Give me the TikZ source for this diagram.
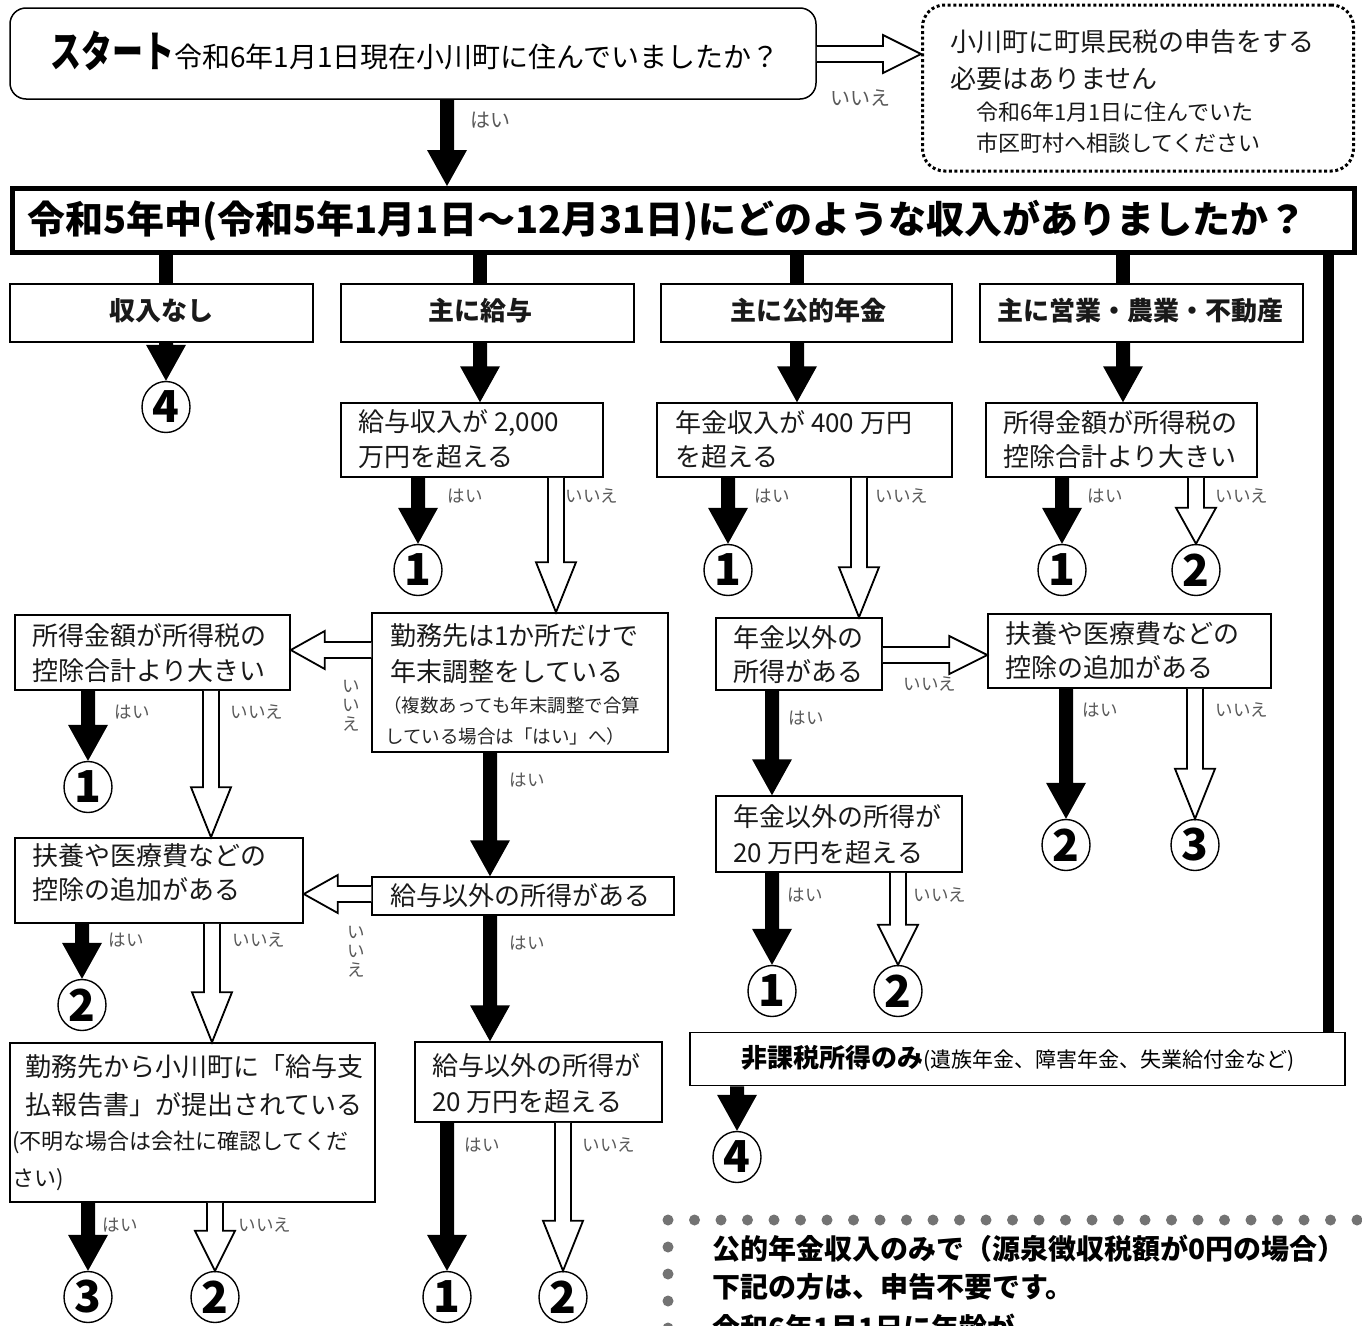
\documentclass[tikz,border=0pt]{standalone}
\usepackage{fontspec}
\setmainfont{Noto Sans CJK JP}
\newfontfamily\cond[FakeStretch=0.72]{Noto Sans CJK JP}
\usetikzlibrary{calc,shapes.geometric}

\tikzset{
  box/.style={draw=black, line width=1.5pt, fill=white, inner sep=0pt},
  txt/.style={anchor=west, inner sep=0pt, text=black!90, font=\fontsize{26}{26}\selectfont},
  stxt/.style={anchor=west, inner sep=0pt, text=black!85, font=\fontsize{18.5}{18.5}\selectfont},
  cattxt/.style={inner sep=0pt, text=black!90, font=\bfseries\fontsize{26}{26}\selectfont},
  lbl/.style={inner sep=0pt, text=black!65, font=\fontsize{17.5}{17.5}\selectfont},
  vlbl/.style={inner sep=0pt, text=black!65, align=center, font=\fontsize{17.5}{19}\selectfont},
  circ/.style={ellipse, draw=black, line width=1.4pt, minimum width=48pt, minimum height=51pt, inner sep=0pt, font=\bfseries\fontsize{44}{44}\selectfont},
  stub/.style={line width=14pt, draw=black},
  holl/.style={draw=black, line width=1.8pt, fill=white, line join=miter},
}

% black arrow pointing down: #1 start, #2 tip
\newcommand\blkarrow[2]{\fill[black] let \p1=#1, \p2=#2 in
  (\x1-7pt,\y1) -- (\x1-7pt,\y2+36pt) -- (\x1-20pt,\y2+36pt) -- (\x1,\y2)
  -- (\x1+20pt,\y2+36pt) -- (\x1+7pt,\y2+36pt) -- (\x1+7pt,\y1) -- cycle;}
% hollow arrow pointing down: [#1 head length] #2 start, #3 tip
\newcommand\holarrow[3][48]{\draw[holl] let \p1=#2, \p2=#3 in
  (\x1-8pt,\y1) -- (\x1-8pt,\y2+#1pt) -- (\x1-20pt,\y2+#1pt) -- (\x1,\y2)
  -- (\x1+20pt,\y2+#1pt) -- (\x1+8pt,\y2+#1pt) -- (\x1+8pt,\y1);}
% hollow arrow pointing right
\newcommand\holright[3][38]{\draw[holl] let \p1=#2, \p2=#3 in
  (\x1,\y1+8pt) -- (\x2-#1pt,\y1+8pt) -- (\x2-#1pt,\y1+19pt) -- (\x2,\y1)
  -- (\x2-#1pt,\y1-19pt) -- (\x2-#1pt,\y1-8pt) -- (\x1,\y1-8pt);}
% hollow arrow pointing left
\newcommand\holleft[3][34]{\draw[holl] let \p1=#2, \p2=#3 in
  (\x1,\y1+8pt) -- (\x2+#1pt,\y1+8pt) -- (\x2+#1pt,\y1+19pt) -- (\x2,\y1)
  -- (\x2+#1pt,\y1-19pt) -- (\x2+#1pt,\y1-8pt) -- (\x1,\y1-8pt);}

\begin{document}
\begin{tikzpicture}[x=1pt,y=-1pt]
\fill[white] (0,0) rectangle (1362,1325);
\clip (0,0) rectangle (1362,1325);
\useasboundingbox (0,0) rectangle (1362,1325);

% ---------- column coordinates ----------
\coordinate (xs) at (447,0);
\coordinate (cx1) at (166,0);
\coordinate (cx2) at (480,0);
\coordinate (cx3) at (797,0);
\coordinate (cx4) at (1123,0);
\coordinate (xR) at (1328,0);
\coordinate (xk) at (556,0);
\coordinate (xn) at (859,0);
\coordinate (xl) at (211,0);
\coordinate (xni) at (772,0);
\coordinate (xkm) at (490,0);
\coordinate (xfl) at (212,0);
\coordinate (ya) at (0,54);
\coordinate (yb) at (0,650);
\coordinate (yc) at (0,655);
\coordinate (yd) at (0,894);

% ================= NODES =================
% start
\node[box, minimum width=806pt, minimum height=91pt, rounded corners=16pt] (start) at (413,53.5) {};
\node[anchor=base west, inner sep=0pt, text=black] (tstart) at (50,67)
  {{\cond\bfseries\fontsize{43}{43}\selectfont スタート}{\fontsize{28}{28}\selectfont 令和6年1月1日現在小川町に住んでいましたか？}};

% dotted box
\node[draw=black, line width=3pt, dash pattern=on 3pt off 2.6pt, rounded corners=22pt,
      minimum width=431pt, minimum height=166pt, inner sep=0pt] (dbox) at (1138,88) {};
\node[txt] (d1) at (950,42) {小川町に町県民税の申告をする};
\node[txt] (d2) at (950,79) {必要はありません};
\node[txt, font=\fontsize{22}{22}\selectfont] (d3) at (976,112) {令和6年1月1日に住んでいた};
\node[txt, font=\fontsize{22}{22}\selectfont] (d4) at (976,143) {市区町村へ相談してください};
\node[lbl, font=\fontsize{20}{20}\selectfont] (lno0) at (860,98) {いいえ};
\node[lbl, font=\fontsize{20}{20}\selectfont] (lyes0) at (490,120) {はい};

% main question
\node[draw=black, line width=5pt, fill=white, minimum width=1342pt, minimum height=64pt, inner sep=0pt] (main) at (683,220.5) {};
\node[inner sep=0pt, text=black, font=\bfseries\fontsize{38}{38}\selectfont] (tmain) at (667,221)
  {令和5年中(令和5年1月1日～12月31日)にどのような収入がありましたか？};

% categories
\node[box, minimum width=303pt, minimum height=58pt] (none) at (161.5,313) {};
\node[cattxt] (tnone) at (161.5,311) {収入なし};
\node[box, minimum width=293pt, minimum height=58pt] (kyuyo) at (487.5,313) {};
\node[cattxt] (tkyuyo) at (480,311) {主に給与};
\node[box, minimum width=291pt, minimum height=58pt] (nenkin) at (806.5,313) {};
\node[cattxt] (tnenkin) at (808,311) {主に公的年金};
\node[box, minimum width=323pt, minimum height=58pt] (eigyo) at (1141.5,313) {};
\node[cattxt] (teigyo) at (1140,311) {主に営業・農業・不動産};

% second level
\node[box, minimum width=262pt, minimum height=74pt] (k2000) at (472,440) {};
\node[txt] (tk2000a) at (358,423) {給与収入が 2,000};
\node[txt] (tk2000b) at (358,457) {万円を超える};
\node[box, minimum width=295pt, minimum height=74pt] (n400) at (804.5,440) {};
\node[txt] (tn400a) at (675,423) {年金収入が 400 万円};
\node[txt] (tn400b) at (675,457) {を超える};
\node[box, minimum width=271pt, minimum height=74pt] (shoR) at (1121.5,440) {};
\node[txt] (tshoRa) at (1003,423) {所得金額が所得税の};
\node[txt] (tshoRb) at (1003,457) {控除合計より大きい};
\node[lbl] (l1) at (465,496) {はい};
\node[lbl] (l2) at (592,496) {いいえ};
\node[lbl] (l3) at (772,496) {はい};
\node[lbl] (l4) at (902,496) {いいえ};
\node[lbl] (l5) at (1105,496) {はい};
\node[lbl] (l6) at (1242,496) {いいえ};

% circles
\node[circ] (c4a) at (166,407) {4};
\node[circ] (c1a) at (418,570) {1};
\node[circ] (c1b) at (728,570) {1};
\node[circ] (c1c) at (1062,570) {1};
\node[circ] (c2a) at (1196,570) {2};
\node[circ] (c1d) at (88,787) {1};
\node[circ] (c2b) at (1066,845) {2};
\node[circ] (c3a) at (1195,845) {3};
\node[circ] (c2c) at (82,1005) {2};
\node[circ] (c1e) at (772,991) {1};
\node[circ] (c2d) at (898,991) {2};
\node[circ] (c4b) at (737,1157) {4};
\node[circ] (c1f) at (447,1297) {1};
\node[circ] (c2e) at (563,1297) {2};
\node[circ] (c3b) at (88,1297) {3};
\node[circ] (c2f) at (215,1297) {2};

% third level
\node[box, minimum width=296pt, minimum height=139pt] (kinmu) at (520,682.5) {};
\node[txt] (tkm1) at (390,636) {勤務先は1か所だけで};
\node[txt] (tkm2) at (390,672) {年末調整をしている};
\node[stxt] (tkm3) at (383,705) {（複数あっても年末調整で合算};
\node[stxt] (tkm4) at (385,736) {している場合は「はい」へ）};
\node[box, minimum width=275pt, minimum height=75pt] (shoL) at (152.5,652.5) {};
\node[txt] (tshoLa) at (32,636) {所得金額が所得税の};
\node[txt] (tshoLb) at (32,671) {控除合計より大きい};
\node[box, minimum width=166pt, minimum height=72pt] (nigai) at (799,654) {};
\node[txt] (tnia) at (733,638) {年金以外の};
\node[txt] (tnib) at (733,672) {所得がある};
\node[box, minimum width=283pt, minimum height=74pt] (fuyoR) at (1129.5,651) {};
\node[txt] (tfRa) at (1005,634) {扶養や医療費などの};
\node[txt] (tfRb) at (1005,668) {控除の追加がある};
\node[vlbl] (l7) at (351,706) {い\\い\\え};
\node[lbl] (l8) at (930,684) {いいえ};
\node[lbl] (l9) at (132,712) {はい};
\node[lbl] (l10) at (257,712) {いいえ};
\node[lbl] (l11) at (1100,710) {はい};
\node[lbl] (l12) at (1242,710) {いいえ};

% fourth level
\node[box, minimum width=246pt, minimum height=76pt] (n20) at (839,834) {};
\node[txt] (tn20a) at (733,817) {年金以外の所得が};
\node[txt] (tn20b) at (733,853) {20 万円を超える};
\node[lbl] (l13) at (806,718) {はい};
\node[box, minimum width=302pt, minimum height=38pt] (kigai) at (523,896) {};
\node[txt] (tkigai) at (390,896) {給与以外の所得がある};
\node[lbl] (l14) at (527,780) {はい};
\node[box, minimum width=288pt, minimum height=85pt] (fuyoL) at (159,880.5) {};
\node[txt] (tfLa) at (32,856) {扶養や医療費などの};
\node[txt] (tfLb) at (32,890) {控除の追加がある};
\node[vlbl] (l15) at (356,952) {い\\い\\え};
\node[lbl] (l16) at (126,940) {はい};
\node[lbl] (l17) at (259,940) {いいえ};
\node[lbl] (l18) at (805,895) {はい};
\node[lbl] (l19) at (940,895) {いいえ};

% fifth level
\node[box, minimum width=247pt, minimum height=80pt] (k20) at (538.5,1082) {};
\node[txt] (tk20a) at (432,1066) {給与以外の所得が};
\node[txt] (tk20b) at (432,1102) {20 万円を超える};
\node[lbl] (l20) at (527,943) {はい};
\node[box, minimum width=365pt, minimum height=159pt] (kinms) at (192.5,1122.5) {};
\node[txt] (tks1) at (25,1067) {勤務先から小川町に「給与支};
\node[txt] (tks2) at (25,1105) {払報告書」が提出されている};
\node[txt, font=\fontsize{22}{22}\selectfont] (tks3) at (12,1142) {(不明な場合は会社に確認してくだ};
\node[txt, font=\fontsize{22}{22}\selectfont] (tks4) at (12,1180) {さい)};
\node[box, minimum width=655pt, minimum height=53pt] (hika) at (1017.5,1059) {};
\node[inner sep=0pt, text=black] (thika) at (1018,1058)
  {{\bfseries\fontsize{26}{26}\selectfont 非課税所得のみ}{\fontsize{21}{21}\selectfont (遺族年金、障害年金、失業給付金など)}};
\node[lbl] (l21) at (482,1145) {はい};
\node[lbl] (l22) at (609,1145) {いいえ};
\node[lbl] (l23) at (120,1225) {はい};
\node[lbl] (l24) at (265,1225) {いいえ};

% bottom note
\foreach \i in {0,...,26} {\fill[black!55] (668+26.5*\i,1220) circle (5.5pt);}
\foreach \j in {1,...,4} {\fill[black!55] (668,1220+27*\j) circle (5.5pt);}
\node[txt, text=black, font=\bfseries\fontsize{28}{28}\selectfont] (b1) at (712,1249) {公的年金収入のみで（源泉徴収税額が0円の場合）};
\node[txt, text=black, font=\bfseries\fontsize{28}{28}\selectfont] (b2) at (712,1287) {下記の方は、申告不要です。};
\node[txt, text=black, font=\bfseries\fontsize{28}{28}\selectfont] (b3) at (712,1328) {令和6年1月1日に年齢が};

% ================= CONNECTORS =================
\holright[38]{(start.east |- ya)}{(dbox.west |- ya)}
\blkarrow{(start.south -| xs)}{(main.north -| xs)}

\draw[stub] (main.south -| cx1) -- (none.north -| cx1);
\draw[stub] (main.south -| cx2) -- (kyuyo.north -| cx2);
\draw[stub] (main.south -| cx3) -- (nenkin.north -| cx3);
\draw[stub] (main.south -| cx4) -- (eigyo.north -| cx4);
\draw[line width=11pt] (main.south -| xR) -- (hika.north -| xR);

\blkarrow{(none.south -| c4a)}{(c4a.north)}
\blkarrow{(kyuyo.south -| cx2)}{(k2000.north -| cx2)}
\blkarrow{(nenkin.south -| cx3)}{(n400.north -| cx3)}
\blkarrow{(eigyo.south -| cx4)}{(shoR.north -| cx4)}

\blkarrow{(k2000.south -| c1a)}{(c1a.north)}
\holarrow[50]{(k2000.south -| xk)}{(kinmu.north -| xk)}
\blkarrow{(n400.south -| c1b)}{(c1b.north)}
\holarrow[50]{(n400.south -| xn)}{(nigai.north -| xn)}
\blkarrow{(shoR.south -| c1c)}{(c1c.north)}
\holarrow[36]{(shoR.south -| c2a)}{(c2a.north)}

\holleft[34]{(kinmu.west |- yb)}{(shoL.east |- yb)}
\holright[38]{(nigai.east |- yc)}{(fuyoR.west |- yc)}

\blkarrow{(shoL.south -| c1d)}{(c1d.north)}
\holarrow[50]{(shoL.south -| xl)}{(fuyoL.north -| xl)}
\blkarrow{(fuyoR.south -| c2b)}{(c2b.north)}
\holarrow[50]{(fuyoR.south -| c3a)}{(c3a.north)}

\blkarrow{(nigai.south -| xni)}{(n20.north -| xni)}
\blkarrow{(kinmu.south -| xkm)}{(kigai.north -| xkm)}
\holleft[34]{(kigai.west |- yd)}{(fuyoL.east |- yd)}

\blkarrow{(fuyoL.south -| c2c)}{(c2c.north)}
\holarrow[50]{(fuyoL.south -| xfl)}{(kinms.north -| xfl)}
\blkarrow{(n20.south -| c1e)}{(c1e.north)}
\holarrow[40]{(n20.south -| c2d)}{(c2d.north)}

\blkarrow{(kigai.south -| xkm)}{(k20.north -| xkm)}
\blkarrow{(hika.south -| c4b)}{(c4b.north)}
\blkarrow{(k20.south -| c1f)}{(c1f.north)}
\holarrow[50]{(k20.south -| c2e)}{(c2e.north)}
\blkarrow{(kinms.south -| c3b)}{(c3b.north)}
\holarrow[40]{(kinms.south -| c2f)}{(c2f.north)}
\end{tikzpicture}
\end{document}
